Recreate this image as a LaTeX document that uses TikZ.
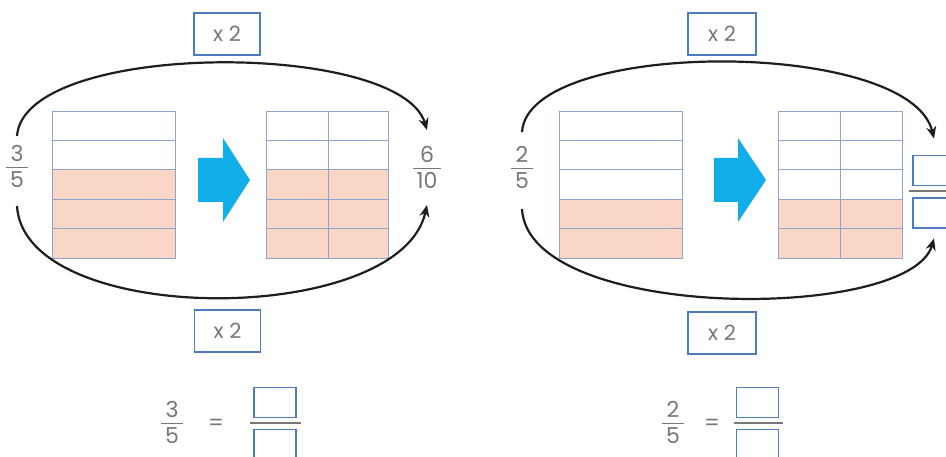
\documentclass[tikz,border=0pt]{standalone}
\usepackage{fontspec}
\setmainfont{Poppins}
\usetikzlibrary{arrows.meta,calc}

\definecolor{shadepink}{HTML}{FAD6C6}
\definecolor{gridblue}{HTML}{8FA3CC}
\definecolor{boxblue}{HTML}{4C7BBE}
\definecolor{arrowcyan}{HTML}{12AEEA}
\definecolor{txtgray}{HTML}{777777}
\definecolor{arcgray}{HTML}{1E1E1E}

\setlength{\arrayrulewidth}{1.2pt}
\newcommand{\bigdigits}{\fontsize{22}{26}\selectfont}
\newcommand{\opdigits}{\fontsize{21}{25}\selectfont}
% fraction with a real bar
\newcommand{\numfrac}[2]{\begin{tabular}{@{\,}c@{\,}}#1\\[-2.5pt]\hline\rule{0pt}{20pt}#2\end{tabular}}

% strip model: left x, right x, shaded rows from the bottom
\newcommand{\stripgrid}[3]{%
  \foreach \r in {1,...,#3}
    \fill[shaded] (#1,{258-(\r-1)*29.4}) rectangle (#2,{258-\r*29.4});
  \foreach \r in {1,...,4}
    \draw[gridline] (#1,{111+\r*29.4}) -- (#2,{111+\r*29.4});
  \draw[gridline] (#1,111) rectangle (#2,258);
}

\tikzset{
  opbox/.style={draw=boxblue, line width=1.8pt, minimum width=66pt, minimum height=42pt,
    inner sep=0pt, text=txtgray, font=\opdigits},
  ansbox/.style={draw=boxblue, line width=1.8pt, minimum width=42pt, minimum height=30pt,
    inner sep=0pt},
  fracnode/.style={text=txtgray, inner sep=0pt, font=\bigdigits},
  loop/.style={line width=2.2pt, draw=arcgray, -{Stealth[length=12pt,width=10pt]}},
  gridline/.style={draw=gridblue, line width=0.9pt},
  shaded/.style={fill=shadepink},
  fracbar/.style={draw=txtgray, line width=1.2pt},
}

\begin{document}
\begin{tikzpicture}[x=1pt, y=-1pt]
  \useasboundingbox (0,0) rectangle (946,457);
  \clip (0,0) rectangle (946,457);

  % Left: 3/5 doubled
  \stripgrid{52}{175}{3}
  \stripgrid{266}{388}{3}
  \draw[gridline] (328,111) -- (328,258);
  \fill[arrowcyan] (198,158) -- (223,158) -- (223,138) -- (250,180)
    -- (223,222) -- (223,202) -- (198,202) -- cycle;

  \node[fracnode] (fA) at (17,169.5) {\numfrac{3}{5}};
  \node[fracnode] (fB) at (427,170.5) {\numfrac{6}{10}};
  \node[opbox] (opA) at (227,34) {x 2};
  \node[opbox] (opB) at (227.5,331) {x 2};

  \draw[loop] ([yshift=7pt]fA.north) .. controls (24,40) and (400,40) .. ([yshift=14pt]fB.north);
  \draw[loop] ([yshift=-10pt]fA.south) .. controls (24,328) and (400,328) .. ([yshift=-8pt]fB.south);

  % equation below
  \node[fracnode] (eqA) at (172,425.5) {\numfrac{3}{5}};
  \node[fracnode] (isA) at (216,425) {=};
  \node[ansbox] (numA) at (275,402.5) {};
  \node[ansbox] (denA) at (275,444.5) {};
  \draw[fracbar] (250,423) -- (301,423);

  % Right: 2/5 doubled
  \stripgrid{559}{682}{2}
  \stripgrid{778}{902}{2}
  \draw[gridline] (840,111) -- (840,258);
  \fill[arrowcyan] (714,158) -- (738,158) -- (738,138) -- (766,180)
    -- (738,222) -- (738,202) -- (714,202) -- cycle;

  \node[fracnode] (fC) at (522,170.5) {\numfrac{2}{5}};
  \node[ansbox] (ansT) at (934,170.5) {};
  \node[ansbox] (ansD) at (934,213) {};
  \draw[fracbar] (909,191) -- (960,191);
  \node[opbox, minimum width=68pt] (opC) at (722,34) {x 2};
  \node[opbox, minimum width=68pt] (opD) at (722,333) {x 2};

  \draw[loop] ([yshift=12pt]fC.north) .. controls (528,38) and (910,38) .. ([yshift=16pt]ansT.north);
  \draw[loop] ([yshift=-12pt]fC.south) .. controls (528,322) and (910,322) .. ([yshift=-9.5pt]ansD.south);

  % equation below
  \node[fracnode] (eqB) at (673,425.5) {\numfrac{2}{5}};
  \node[fracnode] (isB) at (712,425) {=};
  \node[ansbox] (numB) at (757.5,402.5) {};
  \node[ansbox] (denB) at (757.5,444.5) {};
  \draw[fracbar] (734,423) -- (783,423);
\end{tikzpicture}
\end{document}
